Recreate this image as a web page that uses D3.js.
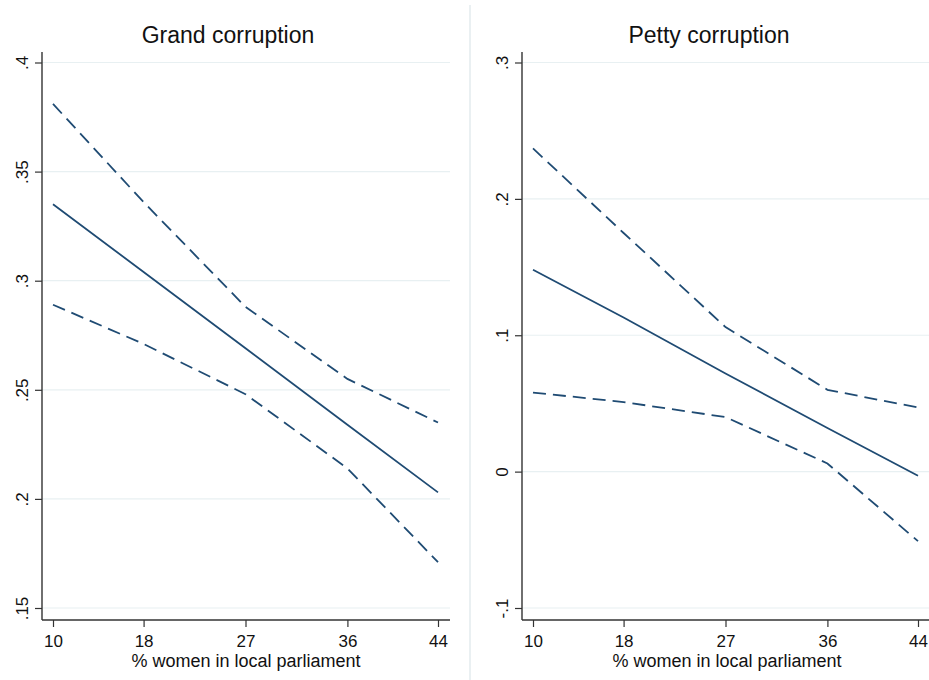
<!DOCTYPE html>
<html>
<head>
<meta charset="utf-8">
<script src="https://cdn.jsdelivr.net/npm/d3@7"></script>
<style>
  body { margin: 0; background: #fff; }
  svg text { font-family: "Liberation Sans", Arial, sans-serif; fill: #111; }
</style>
</head>
<body>
<svg id="chart" width="929" height="680"></svg>
<script>
// x values (% women in local parliament)
const xTicks = [10, 18, 27, 36, 44];

// Grand corruption: fitted line and CI bounds at each x tick
const grandFit   = [0.335, 0.304, 0.269, 0.234, 0.203];
const grandUpper = [0.381, 0.336, 0.288, 0.255, 0.235];
const grandLower = [0.289, 0.271, 0.248, 0.214, 0.171];
const grandTicks = [0.15, 0.2, 0.25, 0.3, 0.35, 0.4];

// Petty corruption
const pettyFit   = [0.148, 0.113, 0.072, 0.032, -0.003];
const pettyUpper = [0.237, 0.175, 0.106, 0.060, 0.047];
const pettyLower = [0.058, 0.051, 0.040, 0.006, -0.051];
const pettyTicks = [-0.1, 0, 0.1, 0.2, 0.3];

const lineCol = "#1f4b73";

const svg = d3.select("#chart");

// vertical separator between the two graphs
svg.append("line")
    .attr("x1", 470).attr("x2", 470)
    .attr("y1", 5).attr("y2", 680)
    .attr("stroke", "#e3ebee")
    .attr("stroke-width", 1.5);

// stata style labels: .35, -.1, 0
function stataFmt(v) {
    let s = String(+v.toFixed(3));
    return s.replace(/^0\./, ".").replace(/^-0\./, "-.");
}

function drawPanel(opt) {
    const left = opt.left, right = opt.right;
    const top = 52, bottom = 620;

    const x = d3.scaleLinear([10, 44], [left + 11, left + 396]);
    const y = d3.scaleLinear(opt.yDom, [608, 62.5]);

    const g = svg.append("g");

    // grid lines
    g.selectAll(".grid")
        .data(opt.ticks)
        .enter()
        .append("line")
        .attr("class", "grid")
        .attr("x1", left).attr("x2", right)
        .attr("y1", d => y(d)).attr("y2", d => y(d))
        .attr("stroke", "#e8f0f2")
        .attr("stroke-width", 1.2);

    // y axis
    const ya = g.append("g")
        .attr("transform", "translate(" + left + ",0)")
        .call(d3.axisLeft(y).tickValues(opt.ticks).tickSize(7).tickFormat(stataFmt));
    ya.select(".domain").remove();
    ya.selectAll(".tick line").attr("stroke", "#333").attr("stroke-width", 1.2);
    ya.selectAll(".tick text")
        .attr("x", 0).attr("y", -14).attr("dy", 0)
        .attr("text-anchor", "middle")
        .attr("transform", "rotate(-90)")
        .style("font-size", "17px")
        .style("font-family", "Liberation Sans, Arial, sans-serif")
        .attr("fill", "#111");

    // x axis
    const xa = g.append("g")
        .attr("transform", "translate(0," + bottom + ")")
        .call(d3.axisBottom(x).tickValues(xTicks).tickSize(7));
    xa.select(".domain").remove();
    xa.selectAll(".tick line").attr("stroke", "#333").attr("stroke-width", 1.2);
    xa.selectAll(".tick text")
        .attr("y", 27).attr("dy", 0)
        .style("font-size", "17px")
        .style("font-family", "Liberation Sans, Arial, sans-serif")
        .attr("fill", "#111");

    // axis lines
    g.append("line")
        .attr("x1", left).attr("x2", left)
        .attr("y1", top).attr("y2", bottom)
        .attr("stroke", "#333").attr("stroke-width", 1.4);
    g.append("line")
        .attr("x1", left).attr("x2", right)
        .attr("y1", bottom).attr("y2", bottom)
        .attr("stroke", "#333").attr("stroke-width", 1.4);

    const line = d3.line()
        .x((d, i) => x(xTicks[i]))
        .y(d => y(d))
        .curve(d3.curveLinear);

    [opt.upper, opt.lower].forEach(s => {
        g.append("path")
            .datum(s)
            .attr("d", line)
            .attr("fill", "none")
            .attr("stroke", lineCol)
            .attr("stroke-width", 1.8)
            .attr("stroke-dasharray", "13,7");
    });
    g.append("path")
        .datum(opt.fit)
        .attr("d", line)
        .attr("fill", "none")
        .attr("stroke", lineCol)
        .attr("stroke-width", 1.8);

    // title
    g.append("text")
        .attr("x", opt.titleX).attr("y", 43)
        .attr("text-anchor", "middle")
        .style("font-size", "23px")
        .text(opt.title);

    // x label
    g.append("text")
        .attr("x", (left + right) / 2).attr("y", 667)
        .attr("text-anchor", "middle")
        .style("font-size", "18px")
        .text("% women in local parliament");
}

drawPanel({
    left: 42, right: 450, titleX: 228,
    yDom: [0.15, 0.4], ticks: grandTicks,
    fit: grandFit, upper: grandUpper, lower: grandLower,
    title: "Grand corruption"
});

drawPanel({
    left: 522, right: 932, titleX: 709,
    yDom: [-0.1, 0.3], ticks: pettyTicks,
    fit: pettyFit, upper: pettyUpper, lower: pettyLower,
    title: "Petty corruption"
});
</script>
</body>
</html>
